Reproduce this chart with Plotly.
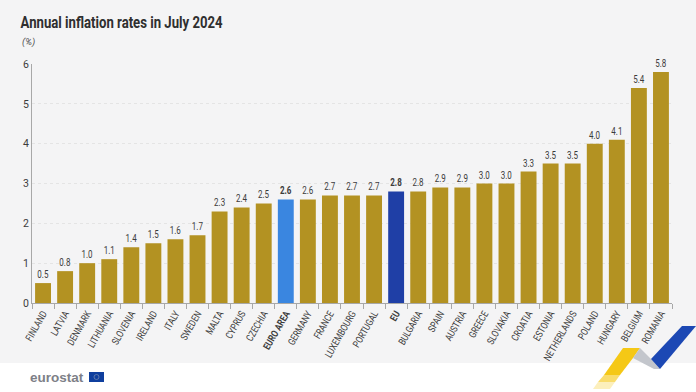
import plotly.graph_objects as go

W, H = 696, 392
L, R, T, B = 32, 24, 64, 89

countries = ["FINLAND", "LATVIA", "DENMARK", "LITHUANIA", "SLOVENIA", "IRELAND", "ITALY", "SWEDEN",
             "MALTA", "CYPRUS", "CZECHIA", "EURO AREA", "GERMANY", "FRANCE", "LUXEMBOURG", "PORTUGAL",
             "EU", "BULGARIA", "SPAIN", "AUSTRIA", "GREECE", "SLOVAKIA", "CROATIA", "ESTONIA",
             "NETHERLANDS", "POLAND", "HUNGARY", "BELGIUM", "ROMANIA"]
rates = [0.5, 0.8, 1.0, 1.1, 1.4, 1.5, 1.6, 1.7, 2.3, 2.4, 2.5, 2.6, 2.6, 2.7, 2.7, 2.7,
         2.8, 2.8, 2.9, 2.9, 3.0, 3.0, 3.3, 3.5, 3.5, 4.0, 4.1, 5.4, 5.8]
highlight_colors = {"EURO AREA": "#3a86e0", "EU": "#1f3fa6"}
base_color = "#b39222"
title = "Annual inflation rates in July 2024"
unit = "(%)"
FONT = "Roboto, Liberation Sans, sans-serif"
TXT = "#3c3c3c"


def px(x):
    return (x - L) / (W - L - R)


def py(y):
    return 1 - (y - T) / (H - T - B)


def poly(points, fill):
    d = "M " + " L ".join(f"{px(x):.5f},{py(y):.5f}" for x, y in points) + " Z"
    return dict(type="path", xref="paper", yref="paper", path=d, fillcolor=fill,
                line=dict(width=0), layer="above")


def bold(s):
    return f"<b>{s}</b>" if s in highlight_colors else s


fig = go.Figure(go.Bar(
    x=countries,
    y=rates,
    width=0.72,
    marker=dict(color=[highlight_colors.get(c, base_color) for c in countries], line=dict(width=0)),
    text=[f"<b>{v:.1f}</b>" if c in highlight_colors else f"{v:.1f}" for c, v in zip(countries, rates)],
    textposition="outside",
    cliponaxis=False,
    textfont=dict(family=FONT, size=10, color=TXT),
    hoverinfo="skip",
))

shapes = [
    dict(type="rect", xref="paper", yref="paper", x0=px(0), x1=px(W), y0=py(0), y1=py(363),
         fillcolor="#f4f4f5", line=dict(width=0), layer="below"),
    # ribbon
    poly([(623, 348), (640, 348), (633, 358), (620, 375), (604, 375)], "#f5c816"),
    poly([(604, 375), (620, 375), (615, 382), (598, 382)], "#f9dc6c"),
    poly([(598, 382), (615, 382), (610, 389), (593, 389)], "#fcefbc"),
    poly([(640, 348), (651, 359), (660, 369), (654, 369), (633, 358)], "#c3c6cc"),
    poly([(682, 326), (696, 326), (660, 369), (651, 359)], "#1c48b4"),
    # eurostat flag
    dict(type="rect", xref="paper", yref="paper", x0=px(89), x1=px(104), y0=py(372), y1=py(382),
         fillcolor="#0f3f9e", line=dict(width=0), layer="above"),
    dict(type="circle", xref="paper", yref="paper", x0=px(94), x1=px(99), y0=py(374.5), y1=py(379.5),
         fillcolor="rgba(0,0,0,0)", line=dict(width=0.7, color="#7f8fb0"), layer="above"),
]

annotations = [
    dict(text=f"<b>{title}</b>", x=px(121), y=py(22), xref="paper", yref="paper", xanchor="center", yanchor="middle",
         showarrow=False, font=dict(family=FONT, size=17, color="#2f2f2f")),
    dict(text=f"<i>{unit}</i>", x=px(20), y=py(42), xref="paper", yref="paper", xanchor="left", yanchor="middle",
         showarrow=False, font=dict(family=FONT, size=9.5, color="#555555")),
    dict(text="<b>eurostat</b>", x=px(28), y=py(377), xref="paper", yref="paper", xanchor="left", yanchor="middle",
         showarrow=False, font=dict(family="Liberation Sans, sans-serif", size=13.5, color="#7d8087")),
]

fig.update_layout(
    width=W, height=H,
    margin=dict(l=L, r=R, t=T, b=B, pad=0),
    paper_bgcolor="#ffffff",
    plot_bgcolor="rgba(0,0,0,0)",
    showlegend=False,
    bargap=0.28,
    shapes=shapes,
    annotations=annotations,
    xaxis=dict(
        categoryorder="array", categoryarray=countries,
        tickmode="array", tickvals=countries, ticktext=[bold(c) for c in countries],
        tickangle=-60, tickson="boundaries", ticks="outside", ticklen=5, tickcolor="#a8a8a8", tickwidth=1,
        tickfont=dict(family=FONT, size=10, color=TXT),
        showline=True, linecolor="#a8a8a8", linewidth=1, showgrid=False, zeroline=False, fixedrange=True,
    ),
    yaxis=dict(
        range=[0, 6], tickmode="array", tickvals=[0, 1, 2, 3, 4, 5, 6],
        ticks="", ticklen=0, tickfont=dict(family=FONT, size=10.5, color=TXT),
        showline=True, linecolor="#a8a8a8", linewidth=1,
        showgrid=True, gridcolor="#e4e4e4", griddash="dot", gridwidth=1, zeroline=False, fixedrange=True,
    ),
)

# No condensed face is installed, so condense the real text horizontally once drawn.
post = """
document.body.style.margin='0';
document.documentElement.style.overflow='hidden';
function squeeze(sel, f){
  document.querySelectorAll(sel).forEach(function(t){
    var n=t.getComputedTextLength();
    t.setAttribute('textLength', (n*f).toFixed(1));
    t.setAttribute('lengthAdjust','spacingAndGlyphs');
  });
}
squeeze('.xtick text',0.8);
squeeze('.bartext',0.8);
var a=document.querySelectorAll('.annotation-text');
if(a.length){a[0].setAttribute('textLength','202');a[0].setAttribute('lengthAdjust','spacingAndGlyphs');}
"""
fig.write_html("out.html", config={"displayModeBar": False}, post_script=post)
